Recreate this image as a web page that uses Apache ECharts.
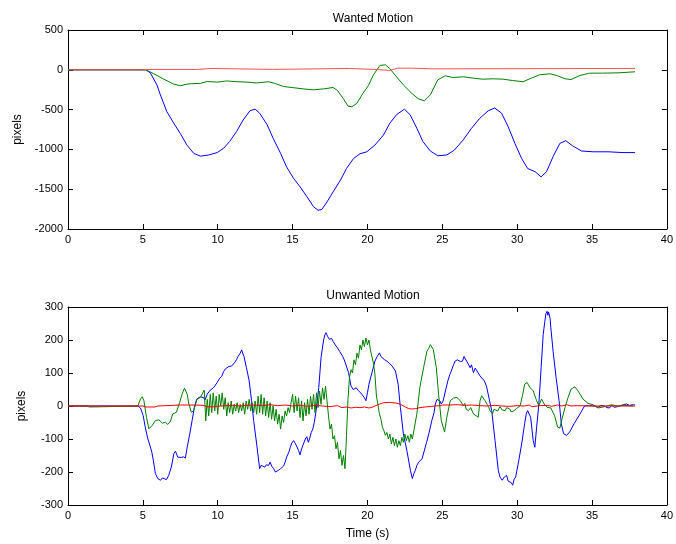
<!DOCTYPE html>
<html>
<head>
<meta charset="utf-8">
<script src="https://cdn.jsdelivr.net/npm/echarts@6/dist/echarts.min.js"></script>
<style>
	html, body { margin: 0; padding: 0; background: #fff; }
	#chart { width: 676px; height: 544px; }
</style>
</head>
<body>
<div id="chart"></div>
<script>
// time in seconds, values in pixels
const wantedBlue = [[0,0],[5.2,0],[5.5,-40],[5.94,-190],[6.17,-315],[6.6,-525],[7.06,-670],[7.5,-800],[7.94,-945],[8.4,-1050],[8.85,-1085],[9.4,-1070],[9.96,-1040],[10.4,-985],[10.8,-900],[11.26,-775],[11.7,-630],[12.15,-515],[12.5,-495],[12.8,-545],[13.3,-690],[13.7,-860],[14.2,-1050],[14.6,-1220],[15.07,-1365],[15.5,-1470],[15.96,-1595],[16.4,-1720],[16.7,-1765],[16.95,-1755],[17.3,-1660],[17.7,-1535],[18.2,-1385],[18.6,-1240],[19.07,-1115],[19.5,-1055],[19.96,-1030],[20.5,-945],[21.07,-820],[21.5,-670],[21.96,-560],[22.47,-495],[22.85,-565],[23.3,-735],[23.7,-900],[24.2,-1020],[24.7,-1080],[25.3,-1070],[25.8,-1010],[26.4,-880],[26.95,-735],[27.5,-610],[28.07,-515],[28.5,-480],[28.96,-545],[29.4,-715],[29.85,-925],[30.3,-1115],[30.7,-1240],[31.2,-1280],[31.6,-1345],[31.96,-1280],[32.4,-1090],[32.85,-925],[33.25,-890],[33.7,-955],[34.3,-1020],[35.07,-1030],[36.07,-1030],[37.07,-1040],[37.87,-1040]];
const wantedGreen = [[0,0],[5.2,0],[5.73,-50],[6.4,-118],[7.06,-180],[7.5,-200],[7.94,-180],[8.27,-175],[8.85,-170],[9.3,-147],[9.96,-155],[10.6,-140],[11.3,-150],[11.96,-155],[12.6,-165],[13.4,-150],[13.8,-170],[14.4,-210],[15.07,-225],[15.7,-240],[16.4,-252],[17.07,-240],[17.7,-222],[18.0,-260],[18.4,-365],[18.7,-455],[18.96,-465],[19.3,-420],[19.7,-295],[20.06,-200],[20.4,-63],[20.84,55],[21.2,63],[21.5,13],[21.96,-92],[22.4,-190],[22.96,-295],[23.4,-365],[23.8,-390],[24.2,-315],[24.7,-126],[25.2,-75],[25.7,-97],[26.4,-88],[27.07,-105],[27.7,-118],[28.4,-113],[29.07,-118],[29.7,-135],[30.4,-150],[30.84,-113],[31.5,-63],[32.2,-50],[32.7,-75],[33.2,-113],[33.6,-122],[34.2,-71],[34.84,-42],[35.7,-42],[36.8,-38],[37.87,-25]];
const wantedRed = [[0,0],[5.0,0],[5.2,4],[8.6,4],[8.65,17],[9.55,17],[9.6,5],[13.65,5],[13.7,17],[18.8,17],[18.85,5],[20.4,5],[20.5,-8],[21.5,-8],[21.6,10],[22.0,20],[23.0,20],[23.1,12],[24.4,12],[24.5,17],[37.87,17]];

const unwantedBlue = [[0,0],[0.95,0],[1.05,3],[1.15,0],[2.1,0],[2.2,3],[2.3,0],[4.67,0],[4.84,-6],[5.02,-29],[5.18,-69],[5.33,-99],[5.5,-124],[5.6,-140],[5.7,-165],[5.84,-205],[6.0,-220],[6.18,-225],[6.3,-218],[6.4,-222],[6.58,-223],[6.73,-210],[6.9,-185],[7.07,-145],[7.18,-137],[7.33,-155],[7.45,-153],[7.56,-156],[7.7,-154],[7.84,-158],[7.96,-125],[8.13,-85],[8.29,-44],[8.44,-4],[8.6,21],[8.7,18],[8.84,28],[8.95,22],[9.07,25],[9.15,18],[9.3,36],[9.4,30],[9.5,48],[9.6,42],[9.73,56],[9.85,60],[9.96,71],[10.13,84],[10.27,90],[10.4,105],[10.5,112],[10.6,118],[10.75,120],[10.93,121],[11.05,125],[11.15,133],[11.25,140],[11.37,151],[11.5,160],[11.6,170],[11.68,158],[11.75,151],[11.92,116],[12.1,76],[12.26,16],[12.4,-44],[12.6,-115],[12.8,-190],[12.9,-180],[13.03,-177],[13.15,-185],[13.25,-178],[13.4,-180],[13.5,-170],[13.6,-182],[13.74,-190],[13.85,-200],[13.96,-205],[14.05,-195],[14.2,-190],[14.3,-193],[14.4,-182],[14.5,-170],[14.6,-155],[14.75,-140],[14.85,-125],[14.95,-112],[15.07,-105],[15.2,-115],[15.3,-120],[15.4,-135],[15.5,-148],[15.6,-130],[15.73,-125],[15.85,-100],[15.95,-93],[16.05,-110],[16.13,-100],[16.25,-80],[16.35,-70],[16.45,-50],[16.57,-14],[16.75,56],[16.9,146],[17.06,197],[17.15,215],[17.23,222],[17.35,210],[17.46,202],[17.6,205],[17.72,195],[17.85,185],[18.0,176],[18.15,165],[18.34,151],[18.45,140],[18.56,136],[18.74,101],[18.9,61],[19.05,50],[19.12,46],[19.25,55],[19.4,46],[19.55,40],[19.67,36],[19.8,25],[19.9,16],[20.0,40],[20.1,66],[20.3,101],[20.5,136],[20.65,150],[20.8,161],[20.9,150],[21.0,146],[21.15,140],[21.3,136],[21.45,130],[21.65,121],[21.75,115],[21.87,106],[22.05,66],[22.2,-4],[22.4,-84],[22.65,-139],[22.87,-195],[23.0,-220],[23.1,-205],[23.2,-195],[23.3,-180],[23.42,-170],[23.55,-175],[23.65,-160],[23.86,-125],[23.95,-110],[24.1,-84],[24.3,-44],[24.45,-20],[24.53,6],[24.65,20],[24.75,26],[24.85,15],[24.93,6],[25.05,15],[25.15,21],[25.37,76],[25.5,95],[25.6,106],[25.75,125],[25.86,136],[26.0,140],[26.08,146],[26.2,135],[26.35,136],[26.45,150],[26.57,146],[26.7,130],[26.86,116],[26.95,125],[27.08,101],[27.2,115],[27.3,111],[27.4,100],[27.52,91],[27.65,85],[27.81,76],[27.95,60],[28.08,56],[28.3,-14],[28.52,-104],[28.74,-195],[28.85,-215],[29.0,-225],[29.15,-215],[29.3,-210],[29.4,-228],[29.5,-225],[29.6,-232],[29.7,-240],[29.8,-222],[29.9,-215],[30.07,-175],[30.3,-115],[30.5,-54],[30.6,-25],[30.7,-14],[30.8,-20],[30.9,-34],[31.07,-104],[31.18,-125],[31.3,-64],[31.45,6],[31.6,116],[31.74,217],[31.85,257],[31.92,280],[32.0,287],[32.05,275],[32.1,285],[32.2,265],[32.25,237],[32.4,166],[32.6,86],[32.8,16],[32.95,-54],[33.1,-84],[33.3,-89],[33.5,-79],[33.8,-54],[34.2,-24],[34.5,0],[34.84,1],[35.2,0],[35.4,-4],[35.6,2],[35.84,0],[36.0,-5],[36.17,-6],[36.3,2],[36.5,-4],[36.7,-2],[36.95,2],[37.1,4],[37.3,6],[37.5,2],[37.75,4],[37.87,3]];
const unwantedGreen = [[0,0],[1.2,0],[1.3,-3],[1.45,-3],[1.5,0],[4.67,0],[4.84,21],[4.96,28],[5.07,16],[5.24,-34],[5.4,-69],[5.62,-59],[5.84,-44],[6.07,-42],[6.3,-52],[6.5,-49],[6.67,-56],[6.84,-46],[7.0,-24],[7.24,-19],[7.46,11],[7.62,36],[7.78,54],[7.96,36],[8.07,6],[8.24,-19],[8.4,-14],[8.62,21],[8.84,26],[9.1,48],[9.2,-45],[9.3,20],[9.4,-30],[9.5,35],[9.6,-20],[9.7,40],[9.8,-15],[9.9,30],[10.0,-25],[10.1,35],[10.2,0],[10.3,40],[10.4,-10],[10.5,25],[10.6,-30],[10.7,10],[10.8,-20],[10.9,15],[11.0,-25],[11.1,5],[11.2,-15],[11.3,10],[11.4,-20],[11.5,5],[11.6,-15],[11.7,10],[11.8,-25],[11.9,15],[12.0,-10],[12.1,20],[12.2,-15],[12.3,10],[12.4,-20],[12.5,15],[12.6,-25],[12.7,30],[12.8,-20],[12.9,35],[13.0,-25],[13.1,25],[13.2,-30],[13.3,15],[13.4,-35],[13.5,10],[13.6,-40],[13.7,0],[13.8,-45],[13.9,-10],[14.0,-55],[14.1,-25],[14.2,-70],[14.3,-30],[14.4,-50],[14.5,-15],[14.6,-30],[14.7,-5],[14.8,-20],[14.9,10],[15.0,35],[15.1,-20],[15.2,30],[15.3,-15],[15.4,25],[15.5,-35],[15.6,15],[15.7,-45],[15.8,10],[15.9,-30],[16.0,20],[16.1,-25],[16.2,30],[16.3,-10],[16.4,35],[16.5,-20],[16.6,40],[16.7,-5],[16.8,45],[16.9,5],[17.0,55],[17.1,20],[17.2,60],[17.3,15],[17.4,-30],[17.5,-70],[17.6,-55],[17.7,-100],[17.8,-90],[17.9,-130],[18.0,-110],[18.1,-160],[18.2,-135],[18.3,-180],[18.4,-150],[18.5,-190],[18.6,-90],[18.7,20],[18.8,86],[18.9,110],[19.0,100],[19.1,140],[19.2,125],[19.3,160],[19.4,145],[19.5,185],[19.6,170],[19.7,200],[19.8,180],[19.9,206],[20.0,185],[20.1,200],[20.2,170],[20.3,165],[20.4,130],[20.5,96],[20.6,30],[20.7,5],[20.8,-24],[20.9,-40],[21.0,-64],[21.1,-75],[21.2,-89],[21.3,-80],[21.4,-100],[21.5,-85],[21.6,-115],[21.7,-95],[21.8,-120],[21.9,-100],[22.0,-125],[22.1,-105],[22.2,-120],[22.3,-95],[22.4,-110],[22.5,-85],[22.6,-105],[22.7,-90],[22.8,-110],[22.9,-85],[23.0,-100],[23.1,-75],[23.2,-70],[23.3,-24],[23.5,56],[23.75,116],[23.97,166],[24.1,175],[24.2,186],[24.3,180],[24.4,171],[24.6,116],[24.75,36],[24.93,-44],[25.15,-79],[25.3,-34],[25.53,16],[25.75,24],[25.97,26],[26.2,16],[26.4,1],[26.5,8],[26.6,-10],[26.75,-14],[26.9,-5],[27.08,-24],[27.2,-20],[27.4,-34],[27.52,16],[27.63,31],[27.75,25],[27.85,16],[28.0,5],[28.1,-4],[28.2,-15],[28.35,-24],[28.45,-10],[28.56,-4],[28.7,-15],[28.85,-2],[29.0,-12],[29.2,-14],[29.3,-5],[29.5,-9],[29.6,-18],[29.8,-14],[29.95,-8],[30.07,-9],[30.2,1],[30.35,31],[30.5,66],[30.67,71],[30.85,56],[31.07,46],[31.3,16],[31.45,1],[31.63,21],[31.8,6],[32.0,-4],[32.25,-6],[32.5,-29],[32.7,-64],[32.85,-67],[33.0,-39],[33.2,-4],[33.4,26],[33.6,51],[33.85,58],[34.06,46],[34.4,21],[34.73,8],[35.06,4],[35.4,-6],[35.84,-2],[36.3,4],[36.7,0],[37.17,2],[37.75,0]];
const unwantedRed = [[0,0],[5.0,0],[5.2,-3],[5.8,-3],[6.0,0],[7.5,3],[7.6,5],[8.5,3],[9.0,2],[9.3,-2],[9.6,-3],[10.0,-1],[10.5,1],[11.0,2],[11.5,0],[12.0,2],[12.5,3],[13.0,1],[13.5,4],[14.0,1],[14.5,3],[15.0,0],[15.5,2],[16.0,-1],[16.5,2],[17.0,0],[17.5,-2],[18.0,1],[18.3,-5],[18.6,-3],[18.9,-6],[19.2,-4],[19.5,-5],[19.8,-3],[20.1,-6],[20.3,-4],[20.5,0],[20.8,6],[21.1,10],[21.5,11],[21.9,9],[22.2,5],[22.5,-2],[22.75,-8],[23.0,-9],[23.2,-8],[23.5,-5],[23.86,-3],[24.3,-1],[24.8,1],[25.0,3],[25.5,3],[26.0,4],[26.5,2],[27.0,3],[27.5,1],[28.0,0],[28.5,2],[29.0,0],[29.5,-1],[30.0,1],[30.5,0],[30.8,3],[31.0,-2],[31.5,1],[32.0,2],[32.3,-1],[32.7,3],[33.0,0],[33.3,4],[33.6,0],[34.0,1],[35.0,0],[37.87,0]];

const font = "Liberation Sans";

const xAxisPair = (gridIndex, name) => [
	{
		gridIndex, type: "value", min: 0, max: 40, interval: 5,
		name, nameLocation: "middle", nameGap: 23,
		nameTextStyle: { color: "#000", fontSize: 12, fontFamily: font },
		axisLine: { onZero: false, lineStyle: { color: "#000", width: 1 } },
		axisTick: { inside: true, length: 5, lineStyle: { color: "#000" } },
		axisLabel: { color: "#000", fontSize: 11, fontFamily: font, margin: 5 },
		splitLine: { show: false }
	},
	{
		gridIndex, type: "value", min: 0, max: 40, interval: 5, position: "top",
		axisLine: { onZero: false, lineStyle: { color: "#000", width: 1 } },
		axisTick: { inside: true, length: 5, lineStyle: { color: "#000" } },
		axisLabel: { show: false },
		splitLine: { show: false }
	}
];

const yAxisPair = (gridIndex, min, max, interval) => [
	{
		gridIndex, type: "value", min, max, interval,
		name: "pixels", nameLocation: "middle", nameGap: 40,
		nameTextStyle: { color: "#000", fontSize: 12, fontFamily: font },
		axisLine: { onZero: false, lineStyle: { color: "#000", width: 1 } },
		axisTick: { inside: true, length: 5, lineStyle: { color: "#000" } },
		axisLabel: { color: "#000", fontSize: 11, fontFamily: font, margin: 5, formatter: v => String(v) },
		splitLine: { show: false }
	},
	{
		gridIndex, type: "value", min, max, interval, position: "right",
		axisLine: { onZero: false, lineStyle: { color: "#000", width: 1 } },
		axisTick: { inside: true, length: 5, lineStyle: { color: "#000" } },
		axisLabel: { show: false },
		splitLine: { show: false }
	}
];

const line = (data, color, axisIndex) => ({
	type: "line",
	data,
	xAxisIndex: axisIndex,
	yAxisIndex: axisIndex,
	symbol: "none",
	lineStyle: { color, width: 1 },
	itemStyle: { color },
	z: 2
});

const chart = echarts.init(document.getElementById("chart"));
chart.setOption({
	animation: false,
	backgroundColor: "#fff",
	title: [
		{
			text: "Wanted Motion", left: 368, top: 8, textAlign: "center",
			textStyle: { fontSize: 12, fontWeight: "normal", color: "#000", fontFamily: font }
		},
		{
			text: "Unwanted Motion", left: 368, top: 285, textAlign: "center",
			textStyle: { fontSize: 12, fontWeight: "normal", color: "#000", fontFamily: font }
		}
	],
	grid: [
		{ left: 68, top: 30, width: 601, height: 199 },
		{ left: 68, top: 307, width: 601, height: 198 }
	],
	xAxis: [...xAxisPair(0, ""), ...xAxisPair(1, "Time (s)")],
	yAxis: [...yAxisPair(0, -2000, 500, 500), ...yAxisPair(1, -300, 300, 100)],
	series: [
		line(wantedBlue, "#0000ff", 0),
		line(wantedGreen, "#008000", 0),
		line(wantedRed, "#ff5050", 0),
		line(unwantedBlue, "#0000ff", 2),
		line(unwantedGreen, "#008000", 2),
		line(unwantedRed, "#ff0000", 2)
	]
});
</script>
</body>
</html>
